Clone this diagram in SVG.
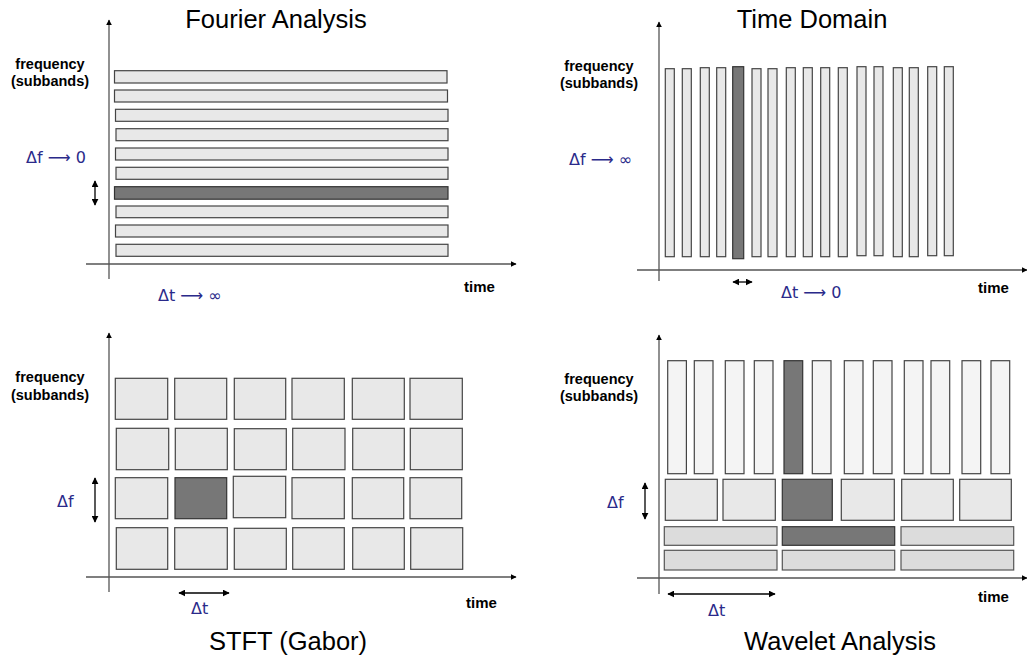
<svg xmlns="http://www.w3.org/2000/svg" width="1027" height="657" viewBox="0 0 1027 657">
<defs>
<marker id="ah" viewBox="0 0 10 10" refX="9" refY="5" markerWidth="6" markerHeight="6" markerUnits="userSpaceOnUse" orient="auto"><path d="M0,0 L10,5 L0,10 z" fill="#000"/></marker>
<marker id="ahs" viewBox="0 0 10 10" refX="9" refY="5" markerWidth="7" markerHeight="7" markerUnits="userSpaceOnUse" orient="auto-start-reverse"><path d="M0,0 L10,5 L0,10 z" fill="#000"/></marker>
</defs>
<style>
.ax{stroke:#555;stroke-width:1.3;fill:none;marker-end:url(#ah)}
.dbl{stroke:#000;stroke-width:1.3;fill:none;marker-start:url(#ahs);marker-end:url(#ahs)}
.b{fill:#e8e8e8;stroke:#444;stroke-width:1.2}
.d{fill:#777;stroke:#333;stroke-width:1.2}
.w{fill:#f4f4f4;stroke:#444;stroke-width:1.2}
.g{fill:#dcdcdc;stroke:#555;stroke-width:1.2}
.title{font-family:"Liberation Sans",Arial,sans-serif;font-size:25.5px;fill:#000;text-anchor:middle}
.lab{font-family:"Liberation Sans",Arial,sans-serif;font-size:14.5px;font-weight:bold;fill:#000;text-anchor:middle}
.time{font-family:"Liberation Sans",Arial,sans-serif;font-size:15px;font-weight:bold;fill:#000}
.del{font-family:"DejaVu Sans","Liberation Sans",sans-serif;font-size:16px;fill:#2a2a8a}
</style>

<!-- Fourier Analysis -->
<g id="fourier">
<text class="title" x="276" y="28">Fourier Analysis</text>
<text class="lab" x="50" y="69">frequency</text>
<text class="lab" x="50" y="86">(subbands)</text>
<rect class="b" x="114.5" y="70.7" width="332.5" height="12.3"/>
<rect class="b" x="114.5" y="90" width="333" height="12"/>
<rect class="b" x="115.5" y="109.3" width="332.5" height="12"/>
<rect class="b" x="116" y="128.7" width="332" height="12"/>
<rect class="b" x="115.5" y="148" width="332.5" height="12"/>
<rect class="b" x="116" y="167.3" width="332" height="12"/>
<rect class="d" x="114.5" y="186.7" width="333.5" height="12.5"/>
<rect class="b" x="116" y="206" width="332" height="11.7"/>
<rect class="b" x="115.5" y="225" width="332.5" height="12"/>
<rect class="b" x="116" y="244.3" width="332" height="12"/>
<text class="del" x="26" y="163">Δf ⟶ 0</text>
<text class="del" x="158" y="301">Δt ⟶ ∞</text>
<text class="time" x="464" y="292">time</text>
</g>

<!-- Time Domain -->
<g id="timedomain">
<text class="title" x="812" y="28">Time Domain</text>
<text class="lab" x="599" y="71">frequency</text>
<text class="lab" x="599" y="88">(subbands)</text>
<rect class="b" x="665.3" y="68.7" width="9" height="188"/>
<rect class="b" x="682.3" y="68.7" width="9" height="188"/>
<rect class="b" x="700.3" y="67.7" width="9" height="189"/>
<rect class="b" x="716.7" y="67.7" width="9" height="189"/>
<rect class="d" x="732.7" y="66.7" width="11" height="192"/>
<rect class="b" x="752" y="68.7" width="9" height="188"/>
<rect class="b" x="768" y="68.7" width="9" height="188"/>
<rect class="b" x="786.3" y="67.7" width="9" height="189"/>
<rect class="b" x="803.3" y="67.7" width="9" height="189"/>
<rect class="b" x="820.7" y="67.7" width="9" height="189"/>
<rect class="b" x="838.3" y="67.7" width="9" height="189"/>
<rect class="b" x="857" y="66.7" width="9" height="189"/>
<rect class="b" x="874" y="66.7" width="9" height="189"/>
<rect class="b" x="893.3" y="67.7" width="9" height="189"/>
<rect class="b" x="909.3" y="67.7" width="9" height="189"/>
<rect class="b" x="927.7" y="66.7" width="9" height="189"/>
<rect class="b" x="944.3" y="66.7" width="9" height="189"/>
<text class="del" x="569" y="165">Δf ⟶ ∞</text>
<text class="del" x="781" y="298">Δt ⟶ 0</text>
<text class="time" x="978" y="293">time</text>
</g>

<!-- STFT -->
<g id="stft">
<text class="title" x="288" y="650">STFT (Gabor)</text>
<text class="lab" x="50" y="382">frequency</text>
<text class="lab" x="50" y="400">(subbands)</text>
<rect class="b" x="115.3" y="378.3" width="52.4" height="41"/>
<rect class="b" x="174.7" y="378.3" width="52" height="41"/>
<rect class="b" x="234.3" y="378.3" width="51.4" height="41"/>
<rect class="b" x="292" y="378.3" width="52.3" height="41"/>
<rect class="b" x="352.3" y="378.3" width="52" height="41"/>
<rect class="b" x="410" y="378.3" width="52.3" height="41"/>

<rect class="b" x="116.3" y="428.3" width="52.4" height="41.4"/>
<rect class="b" x="175.3" y="428.3" width="52" height="41.4"/>
<rect class="b" x="234.3" y="428.7" width="52" height="41"/>
<rect class="b" x="292.7" y="428.3" width="52.3" height="41.4"/>
<rect class="b" x="352.7" y="428.3" width="51.6" height="41.4"/>
<rect class="b" x="410.3" y="428.3" width="52" height="41.4"/>

<rect class="b" x="115.3" y="477.7" width="52.4" height="41"/>
<rect class="d" x="175" y="477.7" width="51.7" height="41"/>
<rect class="b" x="233.3" y="476.3" width="52.4" height="41.4"/>
<rect class="b" x="292" y="477.7" width="52.3" height="41"/>
<rect class="b" x="352.3" y="477.7" width="51.4" height="41"/>
<rect class="b" x="410" y="477.7" width="51.7" height="41"/>

<rect class="b" x="116.3" y="527.7" width="51.4" height="41.6"/>
<rect class="b" x="174.7" y="527.7" width="52.6" height="41.6"/>
<rect class="b" x="234.3" y="528.3" width="52" height="41"/>
<rect class="b" x="292.7" y="527.7" width="51.6" height="41.6"/>
<rect class="b" x="352.7" y="527.7" width="51.6" height="41.6"/>
<rect class="b" x="410.7" y="527.7" width="52" height="41.6"/>
<text class="del" x="57" y="507">Δf</text>
<text class="del" x="191" y="614">Δt</text>
<text class="time" x="466" y="608">time</text>
</g>

<!-- Wavelet -->
<g id="wavelet">
<text class="title" x="840" y="650">Wavelet Analysis</text>
<text class="lab" x="599" y="384">frequency</text>
<text class="lab" x="599" y="401">(subbands)</text>
<rect class="w" x="667.7" y="360.7" width="18.7" height="113"/>
<rect class="w" x="694.3" y="360.7" width="18.7" height="113"/>
<rect class="w" x="725.3" y="360.7" width="18.7" height="113"/>
<rect class="w" x="754.3" y="360.7" width="18.7" height="113"/>
<rect class="d" x="784" y="360.7" width="18.7" height="113"/>
<rect class="w" x="812.3" y="360.7" width="18.7" height="113"/>
<rect class="w" x="844.3" y="360.7" width="18.7" height="113"/>
<rect class="w" x="873.3" y="360.7" width="18.7" height="113"/>
<rect class="w" x="904.3" y="360.7" width="18.7" height="113"/>
<rect class="w" x="931" y="360.7" width="18.7" height="113"/>
<rect class="w" x="962" y="360.7" width="18.7" height="113"/>
<rect class="w" x="991" y="360.7" width="18.7" height="113"/>

<rect class="b" x="665.3" y="479.3" width="52" height="41"/>
<rect class="b" x="723" y="479.3" width="52.3" height="41"/>
<rect class="d" x="782.3" y="479.3" width="50" height="41"/>
<rect class="b" x="841.3" y="479.3" width="53" height="41"/>
<rect class="b" x="901.7" y="479.3" width="51.6" height="41"/>
<rect class="b" x="959.7" y="479.3" width="51.6" height="41"/>

<rect class="g" x="664.3" y="526.7" width="112.7" height="18.6"/>
<rect class="d" x="782.3" y="526.7" width="112.4" height="18.6"/>
<rect class="g" x="901" y="526.7" width="112.7" height="18.6"/>

<rect class="g" x="664.3" y="550.3" width="112.7" height="19.7"/>
<rect class="g" x="782.3" y="550.3" width="112.4" height="19.7"/>
<rect class="g" x="901" y="550.3" width="112.7" height="19.7"/>
<text class="del" x="607" y="508">Δf</text>
<text class="del" x="708" y="616">Δt</text>
<text class="time" x="978" y="602">time</text>
</g>

<!-- Connectors: axes and dimension arrows -->
<g id="connectors">
<line class="ax" x1="109" y1="279" x2="109" y2="20"/>
<line class="ax" x1="86" y1="264" x2="516" y2="264"/>
<line class="dbl" x1="95" y1="181" x2="95" y2="205"/>

<line class="ax" x1="659" y1="281" x2="659" y2="22"/>
<line class="ax" x1="637" y1="270" x2="1027" y2="270"/>
<line class="dbl" x1="733" y1="282" x2="752" y2="282"/>

<line class="ax" x1="109" y1="592" x2="109" y2="333"/>
<line class="ax" x1="86" y1="577" x2="516" y2="577"/>
<line class="dbl" x1="95" y1="478" x2="95" y2="522"/>
<line class="dbl" x1="179" y1="593" x2="229" y2="593"/>

<line class="ax" x1="659" y1="594" x2="659" y2="335"/>
<line class="ax" x1="637" y1="578" x2="1027" y2="578"/>
<line class="dbl" x1="645" y1="483" x2="645" y2="519"/>
<line class="dbl" x1="668" y1="594" x2="775" y2="594"/>
</g>
</svg>
